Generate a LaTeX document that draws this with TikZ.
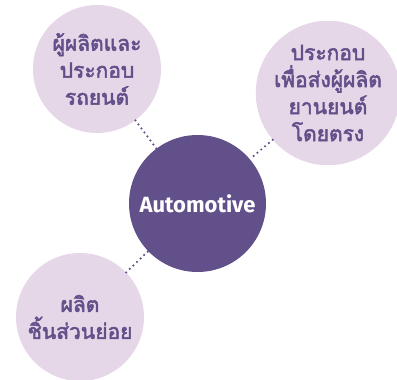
\documentclass[tikz,border=0pt]{standalone}
\usepackage{fontspec}
\newfontfamily\thaifont[Script=Thai,FakeBold=2.5]{Loma}
\newfontfamily\hubfont{Fira Sans}
\usetikzlibrary{positioning}
\definecolor{AutoPurple}{HTML}{62508A}
\definecolor{AutoLilac}{HTML}{E6D7E8}

\begin{document}
\begin{tikzpicture}[x=1pt,y=-1pt,
    hub/.style={circle,fill=AutoPurple,minimum size=137pt,inner sep=0pt,text=white,
        font=\hubfont\bfseries\fontsize{22}{26}\selectfont},
    spoke/.style={circle,fill=AutoLilac,inner sep=0pt,align=center,text=AutoPurple,
        font=\thaifont\fontsize{21}{27}\selectfont},
    link/.style={AutoPurple,line width=2.4pt,line cap=round,dash pattern=on 0pt off 5pt}]
        \useasboundingbox (0,0) rectangle (397,380);
        \node[hub] (auto) at (197.5,203.5) {Automotive};
        \node[spoke,minimum size=128pt] (maker) at (97,69) {ผู้ผลิตและ\\ประกอบ\\รถยนต์};
        \node[spoke,minimum size=138pt] (supplier) at (328,93) {ประกอบ\\เพื่อส่งผู้ผลิต\\ยานยนต์\\โดยตรง};
        \node[spoke,minimum size=128pt] (parts) at (80,317) {ผลิต\\ชิ้นส่วนย่อย};
        % dotted links to the hub
        \foreach \s in {maker,supplier,parts}
        {
            \draw[link] (\s) -- (auto);
        }
\end{tikzpicture}
\end{document}
